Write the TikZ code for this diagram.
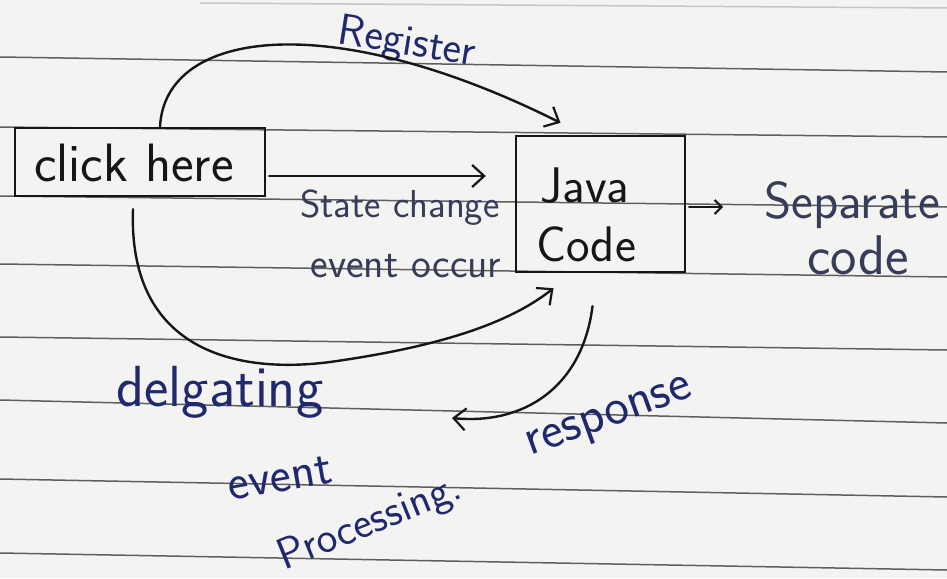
\documentclass[tikz,border=0pt]{standalone}
\usepackage{fontspec}
\usetikzlibrary{arrows.meta}
\definecolor{paper}{RGB}{243,243,241}
\definecolor{rule}{RGB}{95,95,95}
\definecolor{ink}{RGB}{22,22,26}
\definecolor{blueink}{RGB}{32,40,110}
\definecolor{greyink}{RGB}{55,60,88}
\tikzset{
  pen/.style={draw=ink, line width=2.4pt, line cap=round},
  box/.style={pen, rectangle, inner sep=0pt},
  barb/.style={-{Straight Barb[length=12pt,width=22pt,line width=2.2pt]}},
  smallbarb/.style={-{Straight Barb[length=7pt,width=14pt,line width=2.2pt]}},
  rules/.style={draw=rule, line width=1.5pt},
  lab/.style={font=\sffamily\fontsize{#1}{#1}\selectfont, inner sep=0pt},
}
\begin{document}
\begin{tikzpicture}[x=1pt,y=-1pt]
  % sheet of ruled paper
  \fill[paper] (0,0) rectangle (947,578);
  \useasboundingbox (0,0) rectangle (947,578);
  \draw[rules, opacity=.3] (200,3) -- (947,8);
  \foreach \a/\b in {57/72, 127/137, 196/207, 264/277, 337/350, 400/423, 479/497, 553/570}
    \draw[rules] (0,\a) -- (947,\b);

  % boxes
  \node[box, minimum width=250pt, minimum height=68pt] (click) at (140,162) {};
  \node[lab=54, text=ink] (clicktxt) at (134,163) {click here};
  \node[box, minimum width=169pt, minimum height=136pt] (java) at (600.5,204) {};
  \node[lab=50, text=ink] (javaA) at (585,186) {Java};
  \node[lab=50, text=ink] (javaB) at (586,244) {Code};

  % labels
  \node[lab=44, text=blueink, rotate=-9] (reg) at (407,44) {Register};
  \node[lab=39, text=greyink] (sc) at (400,208) {State change};
  \node[lab=42, text=greyink] (eo) at (406,266) {event occur};
  \node[lab=52, text=greyink] (sepA) at (852,205) {Separate};
  \node[lab=56, text=greyink] (sepB) at (858,255) {code};
  \node[lab=58, text=blueink] (dele) at (220,392) {delgating};
  \node[lab=50, text=blueink, rotate=10] (ev) at (280,478) {event};
  \node[lab=44, text=blueink, rotate=22] (proc) at (370,524) {Processing.};
  \node[lab=52, text=blueink, rotate=20] (resp) at (610,420) {response};

  % connector end points
  \coordinate (regS) at ([xshift=20pt]click.north);
  \coordinate (regE) at ([xshift=-40pt,yshift=12pt]java.north);
  \coordinate (scS) at ([xshift=3pt,yshift=-14pt]click.east);
  \coordinate (scE) at ([xshift=-29pt,yshift=28pt]java.west);
  \coordinate (sepS) at ([xshift=3pt,yshift=-3pt]java.east);
  \coordinate (sepE) at ([xshift=37pt,yshift=-3pt]java.east);
  \coordinate (delS) at ([xshift=-7pt,yshift=-12pt]click.south);
  \coordinate (delE) at ([xshift=-47pt,yshift=-15pt]java.south);
  \coordinate (resS) at ([xshift=-8pt,yshift=-33pt]java.south);
  \coordinate (resE) at (452,418);

  % connectors
  \draw[pen, barb] (regS) .. controls +(5,-98) and +(-230,-115) .. (regE);
  \draw[pen, barb] (scS) -- (scE);
  \draw[pen, smallbarb] (sepS) -- (sepE);
  \draw[pen] (delS) .. controls +(-5,137) and +(-100,13) .. (330,362);
  \draw[pen, barb] (330,362) .. controls +(100,-14) and +(-48,38) .. (delE);
  \draw[pen, barb] (resS) .. controls +(-10,80) and +(73,7) .. (resE);
\end{tikzpicture}
\end{document}
